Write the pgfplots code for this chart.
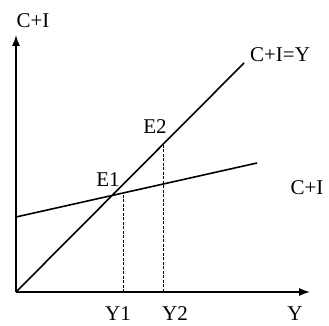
\documentclass[border=0pt]{standalone}
\usepackage{fontspec}
\setmainfont{Liberation Serif}
\usepackage{pgfplots}
\pgfplotsset{compat=1.18}
\usetikzlibrary{arrows.meta}
\tikzset{lbl/.style={font=\fontsize{21}{24}\selectfont, inner sep=0pt}}
\begin{document}
\begin{tikzpicture}
\begin{axis}[
  scale only axis,
  width=294pt, height=257pt,
  xmin=0, xmax=294, ymin=0, ymax=257,
  axis lines=left,
  axis line style={line width=1.4pt, -{Latex[length=11pt,width=8pt]}},
  xtick=\empty, ytick=\empty,
  clip=false,
]
\path (axis cs:-16,-34) rectangle (axis cs:313,292);
\addplot[black, line width=1.6pt] coordinates {(0,0) (228,229)};
\addplot[black, line width=1.6pt] coordinates {(0,75) (241,129)};
\addplot[black, line width=0.9pt, dash pattern=on 3pt off 1.5pt] coordinates {(107,97) (107,0)};
\addplot[black, line width=0.9pt, dash pattern=on 3pt off 1.5pt] coordinates {(147,147) (147,0)};
\node[lbl] at (axis cs:17,271) {C+I};
\node[lbl] at (axis cs:264,237) {C+I=Y};
\node[lbl] at (axis cs:139,165) {E2};
\node[lbl] at (axis cs:92,112) {E1};
\node[lbl] at (axis cs:291,104) {C+I};
\node[lbl] at (axis cs:102,-22) {Y1};
\node[lbl] at (axis cs:159,-22) {Y2};
\node[lbl] at (axis cs:279,-22) {Y};
\end{axis}
\end{tikzpicture}
\end{document}
